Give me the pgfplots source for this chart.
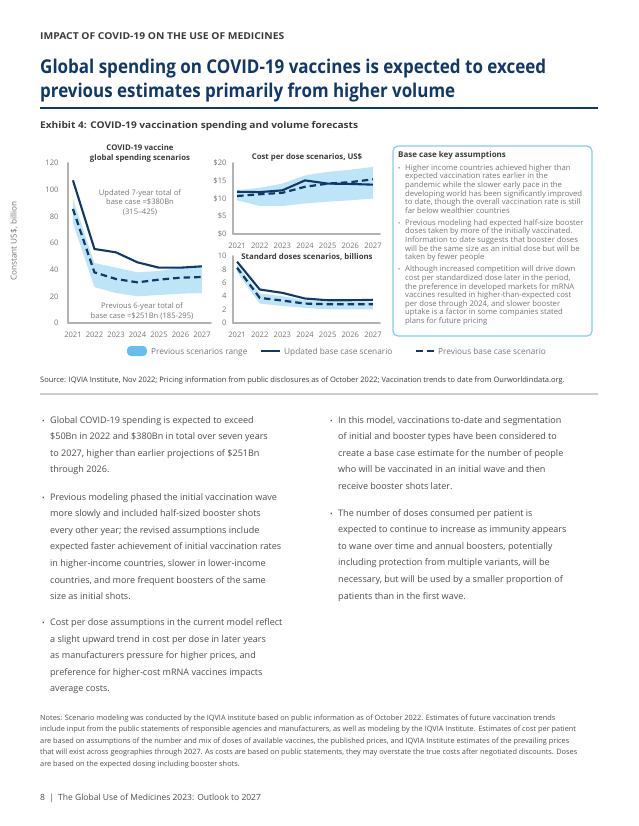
\documentclass[border=0pt]{standalone}
\usepackage{fontspec}
\setmainfont{Open Sans}
\usepackage{graphicx}
\usepackage{pgfplots}
\pgfplotsset{compat=1.18}

\definecolor{navy}{RGB}{16,56,104}
\definecolor{band}{RGB}{190,228,248}
\definecolor{patch}{RGB}{100,190,238}
\definecolor{axgray}{RGB}{178,178,178}
\definecolor{lblgray}{RGB}{118,118,118}
\definecolor{txtgray}{RGB}{78,78,78}
\definecolor{darkgray}{RGB}{60,60,60}
\definecolor{boxblue}{RGB}{135,205,235}
\definecolor{sepgray}{RGB}{205,205,205}

\newcommand{\fs}[1]{\fontsize{#1}{#1}\selectfont}
% one line of text: x, baseline y (pixels from top), text
\newcommand{\TL}[3]{\node[anchor=base west,inner sep=0pt] at (#1pt,-#2pt) {#3};}
\newcommand{\TC}[3]{\node[anchor=base,inner sep=0pt] at (#1pt,-#2pt) {#3};}

\pgfplotsset{
  vac/.style={
    scale only axis,
    anchor=south west,
    axis x line*=bottom, axis y line*=left,
    axis line style={-, axgray, line width=1.8pt, line cap=round},
    major tick length=0pt,
    tick label style={font=\fs{7.6}, text=lblgray},
    /pgf/number format/assume math mode=true,
    /pgf/number format/1000 sep={},
    xtick={2021,...,2027},
    xticklabel style={yshift=-5pt},
    clip=false,
  },
  upd/.style={navy, line width=2.1pt, line join=round},
  prev/.style={navy, line width=2.2pt, dash pattern=on 6.5pt off 4pt},
  rng/.style={fill=band, draw=none},
}

\begin{document}
\begin{tikzpicture}
\fill[white] (0,0) rectangle (638pt,-826pt);
\path[use as bounding box] (0,0) rectangle (638pt,-826pt);

% ---- header ----
\node[anchor=base west,inner sep=0pt,text=darkgray] at (40pt,-39.5pt)
  {\resizebox{244pt}{\height}{\fs{9.5}\bfseries IMPACT OF COVID-19 ON THE USE OF MEDICINES}};
\node[anchor=base west,inner sep=0pt,text=navy] at (40pt,-73.5pt)
  {\resizebox{506pt}{\height}{\fs{19}\bfseries Global spending on COVID-19 vaccines is expected to exceed}};
\node[anchor=base west,inner sep=0pt,text=navy] at (40pt,-98pt)
  {\resizebox{415pt}{\height}{\fs{19}\bfseries previous estimates primarily from higher volume}};
\draw[navy, line width=2.5pt] (40pt,-108pt) -- (598pt,-108pt);
\node[anchor=base west,inner sep=0pt,text=darkgray] at (40pt,-129pt)
  {\resizebox{318pt}{\height}{\fs{9.3}\bfseries Exhibit 4: COVID-19 vaccination spending and volume forecasts}};

% ---- chart 1: spending ----
\begin{axis}[vac, at={(68pt,-323pt)}, width=143pt, height=160pt,
  xmin=2020.77, xmax=2027.42, ymin=0, ymax=120,
  ytick={0,20,...,120}, yticklabel style={xshift=-6pt}]
\addplot[rng] coordinates {(2021,93) (2022,45) (2023,41.5) (2024,38) (2025,39) (2026,41.5) (2027,42.5)
  (2027,22.5) (2026,22) (2025,21) (2024,20) (2023,22.5) (2022,27) (2021,75)} -- cycle;
\addplot[upd] coordinates {(2021,107) (2022,55.5) (2023,53) (2024,45.5) (2025,41.5) (2026,41.5) (2027,42.5)};
\addplot[prev] coordinates {(2021,85.5) (2022,38) (2023,33) (2024,30.5) (2025,32.5) (2026,34) (2027,34.5)};
\end{axis}

% ---- chart 2: cost per dose ----
\begin{axis}[vac, at={(233pt,-234pt)}, width=147pt, height=71pt,
  xmin=2020.82, xmax=2027.31, ymin=0, ymax=20,
  ytick={0,5,...,20}, yticklabels={\$0,\$5,\$10,\$15,\$20}, yticklabel style={xshift=-3pt}]
\addplot[rng] coordinates {(2021,12.3) (2022,13.0) (2023,14.2) (2024,16.5) (2025,17.5) (2026,18.1) (2027,18.9)
  (2027,10) (2026,9.5) (2025,9.1) (2024,8.6) (2023,7.9) (2022,7.9) (2021,9.5)} -- cycle;
\addplot[upd] coordinates {(2021,11.9) (2022,11.8) (2023,12.3) (2024,15.1) (2025,14.2) (2026,14.1) (2027,13.9)};
\addplot[prev] coordinates {(2021,10.7) (2022,11.2) (2023,11.6) (2024,13.3) (2025,14.2) (2026,14.6) (2027,15.4)};
\end{axis}

% ---- chart 3: doses ----
\begin{axis}[vac, at={(233pt,-323pt)}, width=147pt, height=67pt,
  xmin=2020.82, xmax=2027.31, ymin=0, ymax=10,
  ytick={0,2,...,10}, yticklabel style={xshift=-3pt}]
\addplot[rng] coordinates {(2021,8.7) (2022,4.4) (2023,4.0) (2024,3.4) (2025,3.2) (2026,3.2) (2027,3.2)
  (2027,2.05) (2026,2.05) (2025,2.05) (2024,2.25) (2023,2.55) (2022,2.9) (2021,7.6)} -- cycle;
\addplot[upd] coordinates {(2021,9.15) (2022,5.0) (2023,4.5) (2024,3.65) (2025,3.4) (2026,3.4) (2027,3.45)};
\addplot[prev] coordinates {(2021,8.25) (2022,3.75) (2023,3.35) (2024,2.9) (2025,2.8) (2026,2.8) (2027,2.8)};
\end{axis}

% ---- chart titles and notes in the charts ----
\begin{scope}[every node/.append style={font=\fs{7.8}\bfseries, text=darkgray}]
\TC{140}{151}{COVID-19 vaccine}
\TC{140}{161}{global spending scenarios}
\TC{307}{160}{Cost per dose scenarios, US\$}
\TC{307}{259}{Standard doses scenarios, billions}
\end{scope}
\begin{scope}[every node/.append style={font=\fs{7.6}, text=lblgray}]
\TC{140}{195.5}{Updated 7-year total of}
\TC{140}{205}{base case =\$380Bn}
\TC{140}{214.5}{(315--425)}
\TC{142}{308.5}{Previous 6-year total of}
\TC{142}{318}{base case =\$251Bn (185-295)}
\end{scope}
\node[rotate=90, font=\fs{8.2}, text=lblgray, inner sep=0pt] at (14pt,-241pt) {Constant US\$, billion};

% ---- assumptions box ----
\draw[boxblue, line width=1.2pt, rounded corners=5pt] (393pt,-146pt) rectangle (592pt,-336pt);
\node[anchor=base west,inner sep=0pt,font=\fs{8}\bfseries,text=darkgray] at (398pt,-158pt) {Base case key assumptions};
\begin{scope}[every node/.append style={font=\fs{7.7}, text=lblgray}]
\TL{398}{170.3}{\fs{6}•}
\TL{405}{170.3}{Higher income countries achieved higher than}
\TL{405}{178.9}{expected vaccination rates earlier in the}
\TL{405}{187.5}{pandemic while the slower early pace in the}
\TL{405}{196.1}{developing world has been significantly improved}
\TL{405}{204.7}{to date, though the overall vaccination rate is still}
\TL{405}{213.3}{far below wealthier countries}
\TL{398}{225.3}{\fs{6}•}
\TL{405}{225.3}{Previous modeling had expected half-size booster}
\TL{405}{233.9}{doses taken by more of the initially vaccinated.}
\TL{405}{242.5}{Information to date suggests that booster doses}
\TL{405}{251.1}{will be the same size as an initial dose but will be}
\TL{405}{259.7}{taken by fewer people}
\TL{398}{271.8}{\fs{6}•}
\TL{405}{271.8}{Although increased competition will drive down}
\TL{405}{280.4}{cost per standardized dose later in the period,}
\TL{405}{289.0}{the preference in developed markets for mRNA}
\TL{405}{297.6}{vaccines resulted in higher-than-expected cost}
\TL{405}{306.2}{per dose through 2024, and slower booster}
\TL{405}{314.8}{uptake is a factor in some companies stated}
\TL{405}{323.4}{plans for future pricing}
\end{scope}

% ---- legend ----
\fill[patch, rounded corners=4pt] (127pt,-346pt) rectangle (147pt,-356pt);
\draw[navy, line width=2.2pt] (261pt,-351pt) -- (280pt,-351pt);
\draw[navy, line width=2.2pt] (416pt,-351pt) -- (423pt,-351pt);
\draw[navy, line width=2.2pt] (427pt,-351pt) -- (434pt,-351pt);
\begin{scope}[every node/.append style={font=\fs{8.3}, text=lblgray}]
\TL{151}{354}{Previous scenarios range}
\TL{284}{354}{Updated base case scenario}
\TL{438}{354}{Previous base case scenario}
\end{scope}

% ---- source ----
\node[anchor=base west,inner sep=0pt,font=\fs{7.5},text=darkgray] at (40pt,-382pt)
  {Source: IQVIA Institute, Nov 2022; Pricing information from public disclosures as of October 2022; Vaccination trends to date from Ourworldindata.org.};
\draw[sepgray, line width=1.2pt] (40pt,-394pt) -- (598pt,-394pt);

% ---- body text ----
\begin{scope}[every node/.append style={font=\fs{9.05}, text=txtgray}]
\TL{42}{423}{\fs{7}•}
\TL{50}{423}{Global COVID-19 spending is expected to exceed}
\TL{50}{439.6}{\$50Bn in 2022 and \$380Bn in total over seven years}
\TL{50}{456.2}{to 2027, higher than earlier projections of \$251Bn}
\TL{50}{472.8}{through 2026.}
\TL{42}{500}{\fs{7}•}
\TL{50}{500}{Previous modeling phased the initial vaccination wave}
\TL{50}{516.6}{more slowly and included half-sized booster shots}
\TL{50}{533.2}{every other year; the revised assumptions include}
\TL{50}{549.8}{expected faster achievement of initial vaccination rates}
\TL{50}{566.4}{in higher-income countries, slower in lower-income}
\TL{50}{583}{countries, and more frequent boosters of the same}
\TL{50}{599.6}{size as initial shots.}
\TL{42}{625.5}{\fs{7}•}
\TL{50}{625.5}{Cost per dose assumptions in the current model reflect}
\TL{50}{642.1}{a slight upward trend in cost per dose in later years}
\TL{50}{658.7}{as manufacturers pressure for higher prices, and}
\TL{50}{675.3}{preference for higher-cost mRNA vaccines impacts}
\TL{50}{691.9}{average costs.}
\TL{330}{423}{\fs{7}•}
\TL{338}{423}{In this model, vaccinations to-date and segmentation}
\TL{338}{439.6}{of initial and booster types have been considered to}
\TL{338}{456.2}{create a base case estimate for the number of people}
\TL{338}{472.8}{who will be vaccinated in an initial wave and then}
\TL{338}{489.4}{receive booster shots later.}
\TL{330}{516}{\fs{7}•}
\TL{338}{516}{The number of doses consumed per patient is}
\TL{338}{532.6}{expected to continue to increase as immunity appears}
\TL{338}{549.2}{to wane over time and annual boosters, potentially}
\TL{338}{565.8}{including protection from multiple variants, will be}
\TL{338}{582.4}{necessary, but will be used by a smaller proportion of}
\TL{338}{599}{patients than in the first wave.}
\end{scope}

% ---- notes and footer ----
\begin{scope}[every node/.append style={font=\fs{7.35}, text=txtgray}]
\TL{40}{720}{Notes: Scenario modeling was conducted by the IQVIA institute based on public information as of October 2022. Estimates of future vaccination trends}
\TL{40}{731.5}{include input from the public statements of responsible agencies and manufacturers, as well as modeling by the IQVIA Institute. Estimates of cost per patient}
\TL{40}{743}{are based on assumptions of the number and mix of doses of available vaccines, the published prices, and IQVIA Institute estimates of the prevailing prices}
\TL{40}{754.5}{that will exist across geographies through 2027. As costs are based on public statements, they may overstate the true costs after negotiated discounts. Doses}
\TL{40}{766}{are based on the expected dosing including booster shots.}
\end{scope}
\node[anchor=base west,inner sep=0pt,font=\fs{8.5},text=txtgray] at (40pt,-800pt)
  {8\enspace|\enspace The Global Use of Medicines 2023: Outlook to 2027};
\end{tikzpicture}
\end{document}
